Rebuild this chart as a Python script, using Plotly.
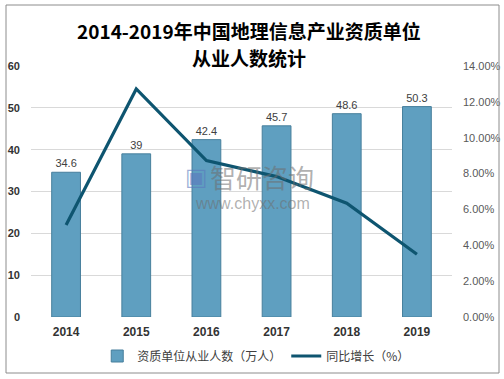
import plotly.graph_objects as go

years = ["2014", "2015", "2016", "2017", "2018", "2019"]
employees = [34.6, 39, 42.4, 45.7, 48.6, 50.3]
growth = [0.0513, 0.1272, 0.0872, 0.0783, 0.0635, 0.0350]
left_ticks = [0, 10, 20, 30, 40, 50, 60]
right_ticks = [0, 0.02, 0.04, 0.06, 0.08, 0.10, 0.12, 0.14]

W, H = 504, 379
L, R, T, B = 31, 52, 66, 62
pw, ph = W - L - R, H - T - B

def px(x):
    return (x - L) / pw

def py(y):
    return (H - B - y) / ph

fig = go.Figure()
fig.add_trace(go.Bar(
    x=years, y=employees, name="资质单位从业人数（万人）",
    marker=dict(color="#5f9fc0", line=dict(color="#477f9c", width=1)),
    width=0.41,
    text=[str(v) for v in employees], textposition="outside",
    textfont=dict(size=11, color="#404040", family="Liberation Sans"),
    cliponaxis=False, yaxis="y",
))
fig.add_trace(go.Scatter(
    x=years, y=growth, name="同比增长（%）", mode="lines",
    line=dict(color="#0e5570", width=3.2), yaxis="y2",
))

fig.update_layout(
    width=W, height=H,
    margin=dict(l=L, r=R, t=T, b=B, autoexpand=False),
    paper_bgcolor="white", plot_bgcolor="white",
    font=dict(family="Noto Sans CJK SC, Liberation Sans", color="#404040"),
    bargap=0.59,
    xaxis=dict(showgrid=False, showline=False, ticks="", automargin=False,
               tickfont=dict(size=12, color="#333333", family="Liberation Sans", weight="bold"),
               ticklabelstandoff=6),
    yaxis=dict(range=[0, 60], tickvals=left_ticks, showgrid=True, automargin=False,
               gridcolor="#d9d9d9", gridwidth=1, zeroline=False,
               tickfont=dict(size=11, color="#333333", family="Liberation Sans", weight="bold"),
               ticklabelstandoff=10),
    yaxis2=dict(range=[0, 0.14], tickvals=right_ticks, tickformat=".2%", automargin=False,
                overlaying="y", side="right", showgrid=False, zeroline=False,
                tickfont=dict(size=11, color="#595959", family="Liberation Sans"),
                ticklabelstandoff=10),
    legend=dict(orientation="h", x=0.535, xanchor="center", y=py(356), yanchor="middle",
                font=dict(size=12, color="#404040"), itemwidth=30,
                tracegroupgap=0, bgcolor="rgba(0,0,0,0)"),
    showlegend=True,
)

fig.add_annotation(
    text="<b>2014-2019年中国地理信息产业资质单位</b>",
    xref="paper", yref="paper", x=px(249), y=py(31), xanchor="center", yanchor="middle",
    showarrow=False, font=dict(size=19, color="#000000", family="Noto Sans CJK SC"),
)
fig.add_annotation(
    text="<b>从业人数统计</b>",
    xref="paper", yref="paper", x=px(249), y=py(57), xanchor="center", yanchor="middle",
    showarrow=False, font=dict(size=19, color="#000000", family="Noto Sans CJK SC"),
)
fig.add_annotation(
    text="智研咨询", xref="paper", yref="paper", x=px(262), y=py(176),
    xanchor="center", yanchor="middle", showarrow=False,
    font=dict(size=26, color="rgba(110,110,110,0.55)", family="Noto Sans CJK SC"),
)
fig.add_annotation(
    text="▣", xref="paper", yref="paper", x=px(196), y=py(177),
    xanchor="center", yanchor="middle", showarrow=False,
    font=dict(size=24, color="rgba(90,120,190,0.6)", family="DejaVu Sans"),
)
fig.add_annotation(
    text="www.chyxx.com", xref="paper", yref="paper", x=px(252), y=py(203),
    xanchor="center", yanchor="middle", showarrow=False,
    font=dict(size=16, color="rgba(110,110,110,0.55)", family="Liberation Sans"),
)
fig.add_shape(type="rect", xref="paper", yref="paper",
              x0=px(6), x1=px(499), y0=py(373), y1=py(5),
              line=dict(color="#8c8c8c", width=1), fillcolor="rgba(0,0,0,0)")

fig.write_html("out.html", config={"displayModeBar": False},
               post_script="document.body.style.margin='0';")
